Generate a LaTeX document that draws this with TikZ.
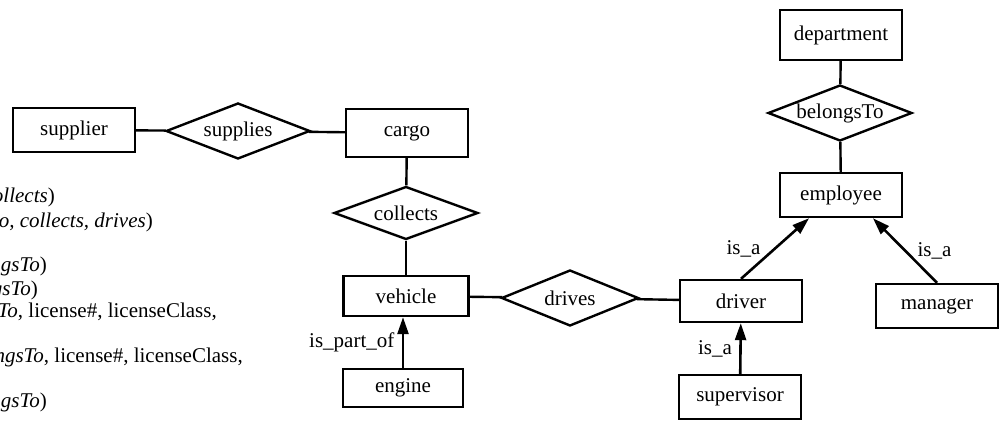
\documentclass[tikz,border=0pt]{standalone}
\usepackage{fontspec}
\setmainfont{Liberation Serif}
\usetikzlibrary{shapes.geometric,arrows.meta}

\begin{document}
\begin{tikzpicture}[x=1pt,y=-1pt,
  font=\fontsize{21}{24}\selectfont,
  entity/.style={draw, line width=2.4pt, minimum width=122pt, minimum height=44pt, inner sep=0pt},
  relation/.style={draw, diamond, aspect=2.5, line width=2.4pt, minimum width=144pt, minimum height=56pt, inner sep=0pt},
  link/.style={line width=2.4pt},
  isa/.style={line width=2.6pt, -{Triangle[length=17pt,width=11pt]}},
  schema/.style={anchor=base east, inner sep=0pt}]
\useasboundingbox (0,0) rectangle (1002,422);
\clip (0,0) rectangle (1002,422);

% Relation schemes, cut at the left margin
\node[schema] (rel1) at (55,203) {\textit{cargo, collects})};
\node[schema] (rel2) at (153,228) {\textit{cargo, collects, drives})};
\node[schema] (rel3) at (47,272) {\textit{belongsTo})};
\node[schema] (rel4) at (38,295) {\textit{belongsTo})};
\node[schema] (rel5) at (217,317) {\textit{belongsTo}, license\#, licenseClass,};
\node[schema] (rel6) at (243,362) {\textit{belongsTo}, license\#, licenseClass,};
\node[schema] (rel7) at (47,407) {\textit{belongsTo})};

% Entities and relationships
\node[entity] (supplier) at (74,130) {supplier};
\node[relation] (supplies) at (238,131) {supplies};
\node[entity, minimum height=48pt] (cargo) at (407,133) {cargo};
\node[relation, minimum height=53pt] (collects) at (406,213) {collects};
\node[entity, minimum width=125pt, minimum height=40pt] (vehicle) at (406,296) {vehicle};
\node[entity, minimum width=120pt, minimum height=38pt] (engine) at (403,388) {engine};
\node[relation, minimum width=137pt] (drives) at (570,298) {drives};
\node[entity, minimum height=42pt] (driver) at (741,301) {driver};
\node[entity] (supervisor) at (740,397) {supervisor};
\node[entity] (manager) at (937,306) {manager};
\node[entity] (employee) at (841,195) {employee};
\node[entity, minimum height=50pt] (department) at (841,35) {department};
\node[relation] (belongsTo) at (840,113) {belongsTo};

% Relationship links
\draw[link] (supplier) -- (supplies);
\draw[link] (supplies) -- (cargo);
\draw[link] (cargo) -- (collects);
\draw[link] (collects) -- (vehicle);
\draw[link] (vehicle) -- (drives);
\draw[link] (drives) -- (driver);
\draw[link] (department) -- (belongsTo);
\draw[link] (belongsTo) -- (employee);

% is_a and part-of arrows
\draw[isa] (engine.north) -- (engine.north |- vehicle.south) node[midway, left=4pt] {is\_part\_of};
\draw[isa] (supervisor) -- (driver) node[midway, left=4pt] {is\_a};
\draw[isa] (driver.north) -- (employee.216) node[midway, left=10pt] {is\_a};
\draw[isa] (manager.north) -- (employee.-36) node[midway, right=8pt] {is\_a};
\end{tikzpicture}
\end{document}
